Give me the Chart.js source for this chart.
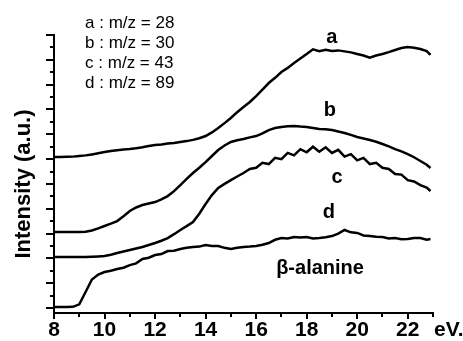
<!DOCTYPE html>
<html>
<head>
<meta charset="utf-8">
<script src="https://cdn.jsdelivr.net/npm/chart.js@4"></script>
<style>
  html, body { margin: 0; padding: 0; background: #fff; }
  #wrap { width: 463px; height: 341px; }
</style>
</head>
<body>
<div id="wrap"><canvas id="spectra" width="463" height="341"></canvas></div>
<script>
// photon energy (eV)
const energy = [8, 8.25, 8.5, 8.75, 9, 9.25, 9.5, 9.75, 10, 10.25, 10.5, 10.75, 11, 11.25, 11.5, 11.75,
  12, 12.25, 12.5, 12.75, 13, 13.25, 13.5, 13.75, 14, 14.25, 14.5, 14.75, 15, 15.25, 15.5, 15.75,
  16, 16.25, 16.5, 16.75, 17, 17.25, 17.5, 17.75, 18, 18.25, 18.5, 18.75, 19, 19.25, 19.5, 19.75,
  20, 20.25, 20.5, 20.75, 21, 21.25, 21.5, 21.75, 22, 22.25, 22.5, 22.75, 22.9];

// offset intensity curves (a.u.)
const curveA = [12.17, 12.17, 12.18, 12.2, 12.25, 12.3, 12.38, 12.47, 12.57, 12.65, 12.72, 12.77, 12.81, 12.88, 12.95, 13.05,
  13.13, 13.18, 13.25, 13.3, 13.38, 13.45, 13.55, 13.68, 13.86, 14.15, 14.5, 14.9, 15.31, 15.78, 16.2, 16.6,
  17.08, 17.6, 18.13, 18.55, 19.02, 19.35, 19.74, 20.1, 20.47, 20.85, 20.7, 20.8, 20.71, 20.76, 20.68, 20.6,
  20.47, 20.35, 20.18, 20.35, 20.47, 20.62, 20.79, 20.95, 21.03, 20.98, 20.87, 20.7, 20.39];
const curveB = [6.12, 6.12, 6.12, 6.12, 6.13, 6.15, 6.25, 6.42, 6.61, 6.8, 7.01, 7.4, 7.82, 8.1, 8.3, 8.42,
  8.54, 8.75, 9.02, 9.42, 9.91, 10.4, 10.88, 11.3, 11.76, 12.25, 12.73, 13.1, 13.38, 13.52, 13.62, 13.75,
  13.86, 14.08, 14.34, 14.5, 14.59, 14.65, 14.67, 14.62, 14.59, 14.5, 14.42, 14.4, 14.34, 14.22, 14.1, 13.95,
  13.78, 13.66, 13.54, 13.4, 13.22, 13.02, 12.81, 12.62, 12.41, 12.15, 11.85, 11.55, 11.28];
const curveC = [4.11, 4.11, 4.11, 4.11, 4.11, 4.12, 4.14, 4.16, 4.19, 4.3, 4.43, 4.55, 4.67, 4.8, 4.92, 5.08,
  5.24, 5.42, 5.64, 5.95, 6.29, 6.6, 6.93, 7.6, 8.38, 9.1, 9.67, 10.0, 10.31, 10.6, 10.88, 11.2,
  11.3, 11.7, 11.6, 12.1, 12.0, 12.5, 12.3, 12.8, 12.55, 13.0, 12.6, 12.95, 12.5, 12.75, 12.2, 12.4,
  11.9, 12.1, 11.6, 11.7, 11.3, 11.2, 10.8, 10.75, 10.3, 10.2, 9.9, 9.7, 9.43];
const curveD = [0.08, 0.08, 0.08, 0.1, 0.3, 1.29, 2.3, 2.7, 2.9, 3.0, 3.14, 3.25, 3.46, 3.6, 3.95, 4.05,
  4.27, 4.35, 4.59, 4.62, 4.75, 4.85, 4.92, 4.95, 5.08, 5.0, 5.0, 4.85, 4.75, 4.85, 4.92, 4.95,
  5.0, 5.1, 5.24, 5.5, 5.64, 5.6, 5.72, 5.68, 5.72, 5.6, 5.64, 5.7, 5.8, 6.0, 6.29, 6.1,
  6.05, 5.85, 5.8, 5.75, 5.72, 5.6, 5.64, 5.55, 5.56, 5.65, 5.64, 5.5, 5.56];

const xLabels = [8, 10, 12, 14, 16, 18, 20, 22];
const legendLines = ['a : m/z = 28', 'b : m/z = 30', 'c : m/z = 43', 'd : m/z = 89'];
const curveNames = ['a', 'b', 'c', 'd'];
// where the curve letters sit, in data units [eV, a.u.]
const namePos = [[19.0, 21.76], [18.92, 15.95], [19.2, 10.48], [18.88, 7.66]];

const FONT = '"Liberation Sans", Arial, sans-serif';

function toPoints(ys) {
  return energy.map((e, i) => ({ x: e, y: ys[i] }));
}

// draws the tick marks (long/short) and the text notes
const decorations = {
  id: 'decorations',
  afterDraw(chart) {
    const ctx = chart.ctx;
    const xs = chart.scales.x;
    const ys = chart.scales.y;
    const area = chart.chartArea;
    ctx.save();
    ctx.strokeStyle = '#000';
    ctx.lineWidth = 2;
    ctx.beginPath();
    for (let v = 8; v <= 23; v++) {
      const px = Math.round(xs.getPixelForValue(v));
      const len = v % 2 === 0 ? 6 : 4;
      ctx.moveTo(px, area.bottom);
      ctx.lineTo(px, area.bottom + len);
    }
    for (let v = 0; v <= 22; v++) {
      const py = Math.round(ys.getPixelForValue(v));
      const len = v % 2 === 0 ? 8 : 4;
      ctx.moveTo(area.left, py);
      ctx.lineTo(area.left - len, py);
    }
    ctx.stroke();

    ctx.fillStyle = '#000';
    ctx.textBaseline = 'middle';

    // legend block
    ctx.font = '17px ' + FONT;
    ctx.textAlign = 'left';
    legendLines.forEach((t, i) => {
      ctx.fillText(t, xs.getPixelForValue(9.23), ys.getPixelForValue(22.97 - i * 1.63));
    });

    // curve letters
    ctx.font = 'bold 20px ' + FONT;
    ctx.textAlign = 'center';
    curveNames.forEach((n, i) => {
      ctx.fillText(n, xs.getPixelForValue(namePos[i][0]), ys.getPixelForValue(namePos[i][1]));
    });

    ctx.fillText('\u03b2-alanine', xs.getPixelForValue(18.53), ys.getPixelForValue(3.22));

    // unit after the last tick label
    ctx.font = 'bold 21px ' + FONT;
    ctx.textAlign = 'left';
    ctx.fillText('eV.', xs.getPixelForValue(23.0) + 1, area.bottom + 17);

    // y axis title
    ctx.font = 'bold 22px ' + FONT;
    ctx.translate(24, (area.top + area.bottom) / 2 + 10);
    ctx.rotate(-Math.PI / 2);
    ctx.textAlign = 'center';
    ctx.fillText('Intensity (a.u.)', 0, 0);
    ctx.restore();
  }
};

const line = (ys) => ({
  data: toPoints(ys),
  borderColor: '#000',
  borderWidth: 2.5,
  pointRadius: 0,
  tension: 0,
  fill: false
});

new Chart(document.getElementById('spectra'), {
  type: 'line',
  data: {
    datasets: [line(curveA), line(curveB), line(curveC), line(curveD)]
  },
  options: {
    responsive: false,
    animation: false,
    devicePixelRatio: 1,
    layout: { padding: { top: 35, right: 30, left: 0, bottom: 0 } },
    plugins: { legend: { display: false }, tooltip: { enabled: false } },
    scales: {
      x: {
        type: 'linear',
        min: 8,
        max: 23,
        afterFit: (s) => { s.height = 28; },
        border: { display: true, color: '#000', width: 2 },
        grid: { drawOnChartArea: false, drawTicks: true, tickLength: 5, color: 'transparent', tickColor: 'transparent' },
        ticks: {
          stepSize: 1,
          autoSkip: false,
          maxRotation: 0,
          padding: 0,
          color: '#000',
          font: { family: FONT, size: 21, weight: 'bold' },
          callback: (v) => (xLabels.includes(v) ? String(v) : '')
        }
      },
      y: {
        type: 'linear',
        min: -0.4,
        max: 22,
        afterFit: (s) => { s.width = 54; },
        border: { display: true, color: '#000', width: 2 },
        grid: { display: false },
        ticks: { display: false }
      }
    }
  },
  plugins: [decorations]
});
</script>
</body>
</html>
